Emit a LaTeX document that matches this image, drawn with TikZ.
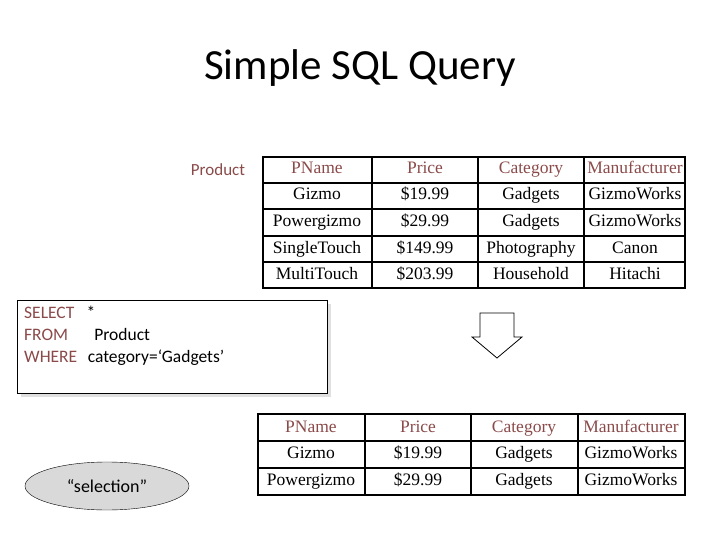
\documentclass[tikz,border=0pt]{standalone}
\usepackage{fontspec}
\setmainfont{Liberation Serif}
\newfontfamily\calibri{Carlito}
\usepackage{xcolor}
\usetikzlibrary{shapes.geometric,positioning,calc}
\definecolor{hdr}{HTML}{8B4A4A}

\begin{document}
\begin{tikzpicture}[
    x=1pt, y=-1pt,
    cell/.style={font=\fontsize{17.5}{20}\selectfont, inner sep=0pt, text height=11pt, text depth=3pt},
    head/.style={cell, text=hdr},
    grid/.style={line width=2.5pt}
]
    \useasboundingbox (0,0) rectangle (720,540);

    % Title
    \node[font=\calibri\fontsize{43}{48}\selectfont] (title) at (360,68) {Simple SQL Query};

    % Input table
    \node[font=\calibri\fontsize{17}{20}\selectfont, text=hdr] (prodlabel) at (218,170) {Product};
    \draw[grid] (263,157) rectangle (685,288);
    \foreach \x in {372,478,584} \draw[grid] (\x,157) -- (\x,288);
    \foreach \y in {183,209,236,262} \draw[grid] (263,\y) -- (685,\y);
    \node[head] (in-pname) at (317,170) {PName};
    \node[head] (in-price) at (425,170) {Price};
    \node[head] (in-cat) at (531,170) {Category};
    \node[head] (in-manu) at (635,170) {Manufacturer};
    \foreach \r/\y/\a/\b/\c/\d in {1/196/Gizmo/\$19.99/Gadgets/GizmoWorks,
                                   2/222/Powergizmo/\$29.99/Gadgets/GizmoWorks,
                                   3/249/SingleTouch/\$149.99/Photography/Canon,
                                   4/275/MultiTouch/\$203.99/Household/Hitachi} {
        \node[cell] (in-\r-1) at (317,\y) {\a};
        \node[cell] (in-\r-2) at (425,\y) {\b};
        \node[cell] (in-\r-3) at (531,\y) {\c};
        \node[cell] (in-\r-4) at (635,\y) {\d};
    }

    % Query box
    \fill[black!12] (21,304) rectangle (331,397);
    \draw[fill=white, line width=0.8pt] (17,300) rectangle (327,393);
    \node[font=\calibri\fontsize{17.5}{22}\selectfont, anchor=north west, align=left, inner sep=2pt] (query) at (22,304)
        {\textcolor{hdr}{SELECT}\hspace{0.7em}*\\
         \textcolor{hdr}{FROM}\hspace{1.5em}Product\\
         \textcolor{hdr}{WHERE}\hspace{0.6em}category=‘Gadgets’};

    % Down arrow
    \draw[line width=0.8pt, fill=white] (480,313) -- (514,313) -- (514,337) -- (522,337)
        -- (497,358) -- (472,337) -- (480,337) -- cycle;

    % Selection
    \node[ellipse, draw, fill=black!15, minimum width=164pt, minimum height=48pt,
          font=\calibri\fontsize{18}{20}\selectfont] (selection) at (107,486) {“selection”};

    % Result table
    \draw[grid] (258,414) rectangle (685,495);
    \foreach \x in {365,471,578} \draw[grid] (\x,414) -- (\x,495);
    \foreach \y in {441,468} \draw[grid] (258,\y) -- (685,\y);
    \node[head] (out-pname) at (311,428) {PName};
    \node[head] (out-price) at (418,428) {Price};
    \node[head] (out-cat) at (524,428) {Category};
    \node[head] (out-manu) at (631,428) {Manufacturer};
    \foreach \r/\y/\a/\b in {1/454/Gizmo/\$19.99, 2/481/Powergizmo/\$29.99} {
        \node[cell] (out-\r-1) at (311,\y) {\a};
        \node[cell] (out-\r-2) at (418,\y) {\b};
        \node[cell] (out-\r-3) at (524,\y) {Gadgets};
        \node[cell] (out-\r-4) at (631,\y) {GizmoWorks};
    }
\end{tikzpicture}
\end{document}
